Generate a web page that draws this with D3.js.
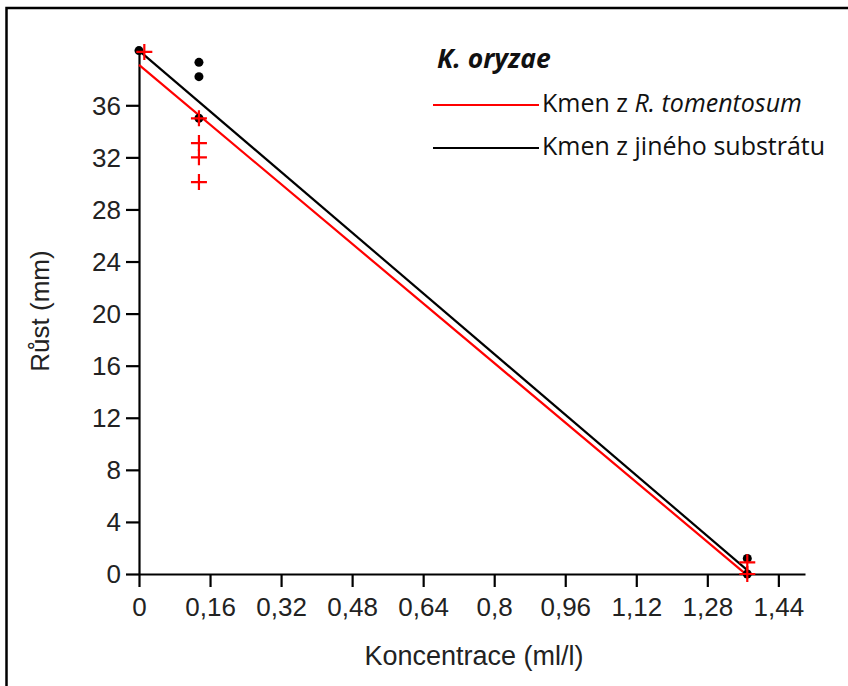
<!DOCTYPE html>
<html>
<head>
<meta charset="utf-8">
<script src="https://cdn.jsdelivr.net/npm/d3@7"></script>
<style>
  html, body { margin: 0; padding: 0; background: #fff; }
  svg { display: block; }
</style>
</head>
<body>
<svg id="chart" width="848" height="686"></svg>
<script>
// Growth of K. oryzae strains at increasing concentration
const blackX = [0, 0.135, 0.135, 0.135, 1.37, 1.37];
const blackY = [40.2, 39.3, 38.2, 35, 1.2, 0];
const redX = [0.012, 0.135, 0.135, 0.135, 0.135, 1.37, 1.37];
const redY = [40.1, 35, 33.1, 32, 30.1, 0.9, 0];
// fitted trend lines [x, y] endpoints
const redFit = [[0, 39.1], [1.37, -0.1]];
const blackFit = [[0, 40.2], [1.37, 0.3]];
const xTicks = [0, 0.16, 0.32, 0.48, 0.64, 0.8, 0.96, 1.12, 1.28, 1.44];
const yTicks = [0, 4, 8, 12, 16, 20, 24, 28, 32, 36];
const legendLabels = ["Kmen z ", "Kmen z jiného substrátu"];

const svg = d3.select("#chart");
const x = d3.scaleLinear().domain([0, 1.5]).range([139, 805]);
const y = d3.scaleLinear().domain([0, 40.4]).range([574, 48]);

const af = "'Liberation Sans', Arial, sans-serif";
const lf = "'Open Sans', sans-serif";

// outer frame
svg.append("rect").attr("x", 6.5).attr("y", 8).attr("width", 860).attr("height", 700)
  .attr("fill", "none").attr("stroke", "#000").attr("stroke-width", 2.5);

const fmt = d => String(+d.toFixed(2)).replace(".", ",");

const xAxis = svg.append("g").attr("transform", "translate(0,574)")
  .call(d3.axisBottom(x).tickValues(xTicks).tickFormat(fmt).tickSize(13).tickSizeOuter(0));
const yAxis = svg.append("g").attr("transform", "translate(139,0)")
  .call(d3.axisLeft(y).tickValues(yTicks).tickFormat(d => d).tickSize(13).tickSizeOuter(0));
[xAxis, yAxis].forEach(a => {
  a.attr("font-family", af).attr("font-size", 26);
  a.select(".domain").attr("stroke-width", 2.2);
  a.selectAll(".tick line").attr("stroke-width", 2.2);
  a.selectAll("text").attr("fill", "#222");
});
xAxis.selectAll("text").attr("y", 24).attr("dy", "0.71em");
yAxis.selectAll("text").attr("x", -18).attr("dy", "0.34em");

// axis titles
svg.append("text").attr("x", 474).attr("y", 665).attr("text-anchor", "middle")
  .attr("font-family", af).attr("font-size", 27)
  .attr("fill", "#222").text("Koncentrace (ml/l)");
svg.append("text").attr("transform", "translate(49,311) rotate(-90)").attr("text-anchor", "middle")
  .attr("font-family", af).attr("font-size", 26)
  .attr("fill", "#222").text("Růst (mm)");

// trend lines
const line = d3.line().x(d => x(d[0])).y(d => y(d[1]));
svg.append("path").datum(blackFit).attr("d", line).attr("fill", "none")
  .attr("stroke", "#000").attr("stroke-width", 2.2);
svg.append("path").datum(redFit).attr("d", line).attr("fill", "none")
  .attr("stroke", "#f00").attr("stroke-width", 2.2);

// black dots
svg.append("g").selectAll("circle").data(d3.range(blackX.length)).join("circle")
  .attr("cx", i => x(blackX[i])).attr("cy", i => y(blackY[i])).attr("r", 4.5).attr("fill", "#000");

// red crosses
svg.append("g").selectAll("path").data(d3.range(redX.length)).join("path")
  .attr("d", i => {
    const cx = x(redX[i]), cy = y(redY[i]), h = 8;
    return `M${cx - h},${cy}H${cx + h}M${cx},${cy - h}V${cy + h}`;
  })
  .attr("stroke", "#f00").attr("stroke-width", 2.2).attr("fill", "none");

// legend
svg.append("text").attr("x", 437).attr("y", 68).attr("font-family", lf)
  .attr("font-size", 26.5).attr("font-weight", "bold").attr("font-style", "italic")
  .attr("fill", "#111").text("K. oryzae");
svg.append("line").attr("x1", 433).attr("x2", 539).attr("y1", 105).attr("y2", 105)
  .attr("stroke", "#f00").attr("stroke-width", 2.2);
svg.append("line").attr("x1", 433).attr("x2", 539).attr("y1", 148).attr("y2", 148)
  .attr("stroke", "#000").attr("stroke-width", 2.2);
const t1 = svg.append("text").attr("x", 542).attr("y", 112).attr("font-family", lf)
  .attr("font-size", 25).attr("fill", "#111");
t1.append("tspan").text(legendLabels[0]);
t1.append("tspan").attr("font-style", "italic").text("R. tomentosum");
svg.append("text").attr("x", 542).attr("y", 155).attr("font-family", lf)
  .attr("font-size", 25).attr("fill", "#111").text(legendLabels[1]);
</script>
</body>
</html>
